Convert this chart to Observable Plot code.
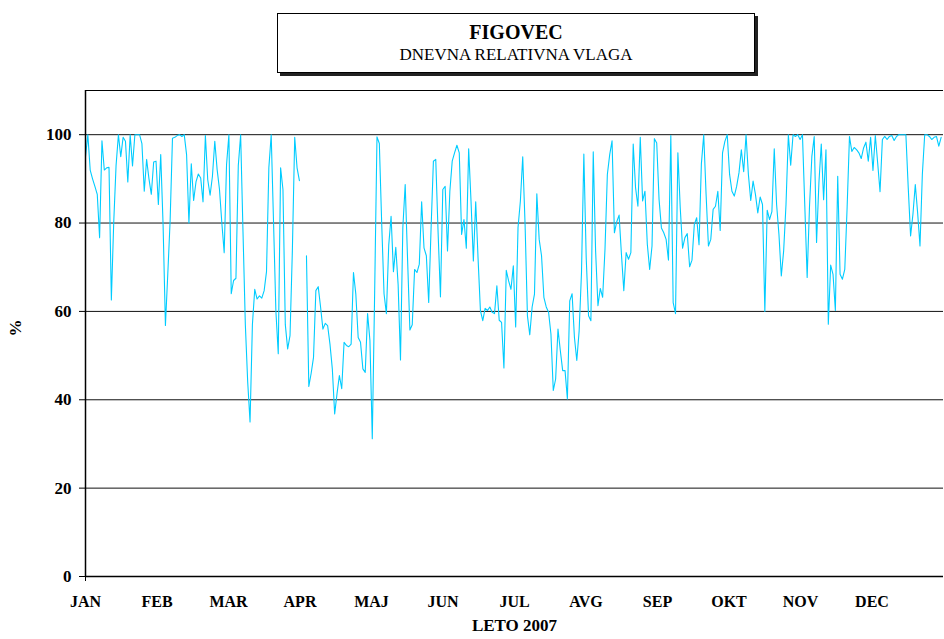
<!DOCTYPE html>
<html>
<head>
<meta charset="utf-8">
<script src="https://cdn.jsdelivr.net/npm/d3@7"></script>
<script src="https://cdn.jsdelivr.net/npm/@observablehq/plot@0.6"></script>
<style>
  html, body { margin: 0; padding: 0; background: #fff; }
  #wrap { position: relative; width: 944px; height: 639px; overflow: hidden; }
  #chart { position: absolute; left: 0; top: 0; }
  #titlebox {
    position: absolute; left: 277px; top: 13px; width: 476px; height: 58px;
    border: 1px solid #000; box-shadow: 3px 3px 0 #222; background: #fff;
    font-family: "Liberation Serif", "Times New Roman", serif; text-align: center; color: #000;
  }
  #titlebox .t1 { font-weight: bold; font-size: 20px; margin-top: 7px; line-height: 22px; }
  #titlebox .t2 { font-size: 17px; margin-top: 2px; line-height: 20px; }
</style>
</head>
<body>
<div id="wrap">
  <div id="chart"></div>
  <div id="titlebox"><div class="t1">FIGOVEC</div><div class="t2">DNEVNA RELATIVNA VLAGA</div></div>
</div>
<script>
// Daily relative humidity (%), Figovec, 2007 — one array per month (null = missing day)
const jan = [95,100,92,90,88.3,86.5,76.7,98.6,92,92.5,92.6,62.6,80,93,100,95,99.4,98.5,89.3,100,92.9,100,100,100,98,87.2,94.4,90,86.5,93.8,94];
const feb = [84.2,95.5,79.7,56.8,68.4,80.5,99.2,99.4,99.8,100,99.6,100,95.5,80,93.4,85.1,89.3,91.1,90.2,84.8,99.8,89.8,86.3,90.6,98.5,92.1,87.6,80];
const mar = [73.3,93.2,100,64,67,67.5,93,100,78,57,44,35,57,65,62.8,63.5,63,64.7,69,92.5,100,80,60,50.4,92.5,87.6,57,51.5,54.5,73.7,99.4];
const apr = [92.5,89.6,null,null,72.6,43,46,49.6,64.7,65.6,61,56,57.3,56.8,52.6,47,36.8,41.4,45.5,42.5,53,52.3,52,52.6,68.8,63.9,54.1,53,47,46.2];
const maj = [59.5,53.4,31.2,64,99.5,98,80,64,59.5,75,81.5,69,74.5,66,49,79,88.7,72,55.8,57,69.5,68.8,70.7,84.8,74.4,72.6,62,78.6,94,94.4,77.8];
const jun = [63.3,87.6,88.3,73.7,87.2,94,95.9,97.6,95.9,77.4,80.8,74.3,96.8,85,71.4,84.8,72,60.2,57.9,60.7,60.2,61,59.8,59.5,65.8,58,57.5,47.2,69.3,66.9];
const jul = [65,70.3,56.5,79,85,95,79.7,59,54.7,61,63.9,86.6,76.3,72.6,63.2,61,59.8,54.9,42.1,44.7,56,51.1,46.6,46.6,40.2,62.4,64,54.1,48.9,55.6,68.8];
const avg = [95.6,72.2,59,57.9,96.1,73.7,61.3,65.2,63.2,74.1,91,95.5,98.6,77.8,80.3,81.8,72.9,64.7,73.3,71.8,73.3,97.9,88,83.8,99.4,85,87.2,75.2,69.5,74.8,99.1];
const sep = [98.1,85.3,78.9,77.8,76.3,71.6,99.8,62,59.5,95.9,83.5,74.3,76.7,77.6,70.1,71.6,79.7,81.2,75.1,93.4,100,86.5,74.8,76.3,83.1,83.8,87.2,78.3,95.9,98.5];
const okt = [100,91,87.2,86.1,88.3,91.4,96.6,91.6,100,91,85.1,89.5,86.5,82.3,85.9,84.2,60,82.9,80.8,82.6,96.8,84.2,77.4,68,73.7,84.2,100,93.1,100,99.6,100];
const nov = [98.9,100,83.8,67.7,83.8,95.1,99.6,75.6,89.1,97.9,85.3,96.6,57.1,70.5,68.4,60.2,90.6,68.4,67.3,69.5,83.5,99.6,96.2,97.1,96.6,95.9,94.6,97,98.3,94];
const dec = [99.4,91.9,99.8,93.6,87.1,98.9,99.6,98.9,99.6,99.8,98.7,99.6,100,100,100,100,88,77.1,82,88.7,82.3,74.8,91,100,100,99.6,98.9,99.4,99.6,97.4,99.4];

const monthLabels = ["JAN","FEB","MAR","APR","MAJ","JUN","JUL","AVG","SEP","OKT","NOV","DEC"];
const yTicks = [0, 20, 40, 60, 80, 100];
const gridValues = [20, 40, 60, 80, 100];

const daily = [jan, feb, mar, apr, maj, jun, jul, avg, sep, okt, nov, dec].flat()
  .map((v, i) => ({day: i, rh: v}));
const nDays = daily.length; // 365
const labelRows = monthLabels.map((m, i) => ({label: m, pos: i * nDays / 12}));

const chart = Plot.plot({
  width: 944,
  height: 639,
  marginLeft: 85,
  marginRight: 1,
  marginTop: 90,
  marginBottom: 63,
  style: {
    fontFamily: '"Liberation Serif", "Times New Roman", serif',
    fontWeight: "bold",
    fontSize: "17px",
    color: "#000",
    background: "#fff",
    overflow: "visible"
  },
  x: {domain: [0, nDays], ticks: [0], tickSize: 5, tickFormat: () => "", label: null},
  y: {domain: [0, 110], ticks: yTicks, tickSize: 6, tickPadding: 8, label: null},
  marks: [
    Plot.ruleY(gridValues, {stroke: "#111", strokeWidth: 1}),
    Plot.ruleY([110], {stroke: "#000", strokeWidth: 1}),
    Plot.lineY(daily, {x: "day", y: "rh", stroke: "#00CCFF", strokeWidth: 1.1}),
    Plot.ruleY([0], {stroke: "#000", strokeWidth: 1.5}),
    Plot.ruleX([0], {stroke: "#000", strokeWidth: 1.5}),
    Plot.text(labelRows, {x: "pos", y: () => 0, text: "label", dy: 25, fontSize: 16}),
    Plot.text(["%"], {frameAnchor: "left", dx: -70, dy: 3, rotate: -90, fontSize: 17}),
    Plot.text(["LETO 2007"], {frameAnchor: "bottom", dy: 54, fontSize: 17})
  ]
});
document.getElementById("chart").appendChild(chart);
</script>
</body>
</html>
